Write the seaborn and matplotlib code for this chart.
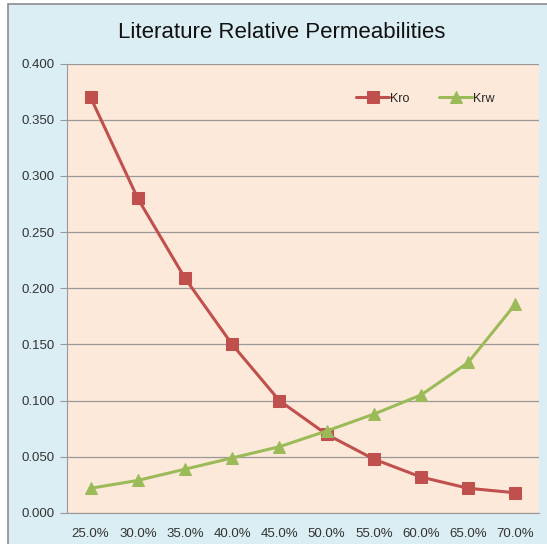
import numpy as np
import pandas as pd
import matplotlib
matplotlib.use("Agg")
import matplotlib.pyplot as plt
import seaborn as sns

# Data
saturation = ["25.0%", "30.0%", "35.0%", "40.0%", "45.0%",
              "50.0%", "55.0%", "60.0%", "65.0%", "70.0%"]
kro = [0.370, 0.280, 0.209, 0.150, 0.100, 0.070, 0.048, 0.032, 0.022, 0.018]
krw = [0.022, 0.029, 0.039, 0.049, 0.059, 0.073, 0.088, 0.105, 0.134, 0.186]

df = pd.DataFrame({"pos": np.arange(len(saturation)), "Kro": kro, "Krw": krw})

sns.set_style("white")
plt.rcParams["font.family"] = ["Liberation Sans", "DejaVu Sans"]

fig = plt.figure(figsize=(5.47, 5.44), dpi=100, facecolor="white")

# chart area background with its border (right/bottom edges fall off the image)
fig.patches.append(plt.Rectangle((8 / 547, -0.02), 1.0, 1.02 - 4 / 544,
                                 transform=fig.transFigure, facecolor="#dbeef4",
                                 edgecolor="#8c8c8c", linewidth=1.2, zorder=0))

ax = fig.add_axes([67 / 547, 0.057, 472 / 547, 0.826])
ax.set_zorder(2)
ax.set_facecolor("#fde9d9")

sns.lineplot(data=df, x="pos", y="Kro", ax=ax, color="#c0504d", linewidth=2.2,
             marker="s", markersize=8, markeredgecolor="#c0504d", label="Kro")
sns.lineplot(data=df, x="pos", y="Krw", ax=ax, color="#9bbb59", linewidth=2.2,
             marker="^", markersize=8, markeredgecolor="#9bbb59", label="Krw")

ax.set_xlim(-0.5, len(saturation) - 0.5)
ax.set_ylim(0, 0.4)
yt = np.arange(0, 0.401, 0.05)
ax.set_yticks(yt)
ax.set_yticklabels([f"{v:.3f}" for v in yt])
ax.set_xticks(np.arange(len(saturation)))
ax.set_xticklabels(saturation)
ax.set_xticks(np.arange(-0.5, len(saturation), 1), minor=True)
ax.tick_params(axis="x", which="major", length=0, pad=11, labelsize=9.5, labelcolor="#333333")
ax.tick_params(axis="x", which="minor", length=5, color="#999999", direction="out")
ax.tick_params(axis="y", length=5, color="#999999", direction="out", labelsize=9.5,
               labelcolor="#333333", left=True, pad=4)
ax.yaxis.grid(True, color="#999999", linewidth=0.9)
ax.set_axisbelow(True)
for side in ["top", "right"]:
    ax.spines[side].set_visible(False)
for side in ["left", "bottom"]:
    ax.spines[side].set_color("#999999")
ax.set_xlabel("")
ax.set_ylabel("")

ax.legend(loc="upper right", bbox_to_anchor=(0.93, 0.96), ncol=2, frameon=False,
          fontsize=9, handlelength=2.6, columnspacing=2.4, handletextpad=0.1)

fig.text(0.515, 0.94, "Literature Relative Permeabilities", ha="center", va="center",
         fontsize=16, color="#111111", zorder=3)

fig.savefig("out.png", dpi=100, facecolor=fig.get_facecolor())
